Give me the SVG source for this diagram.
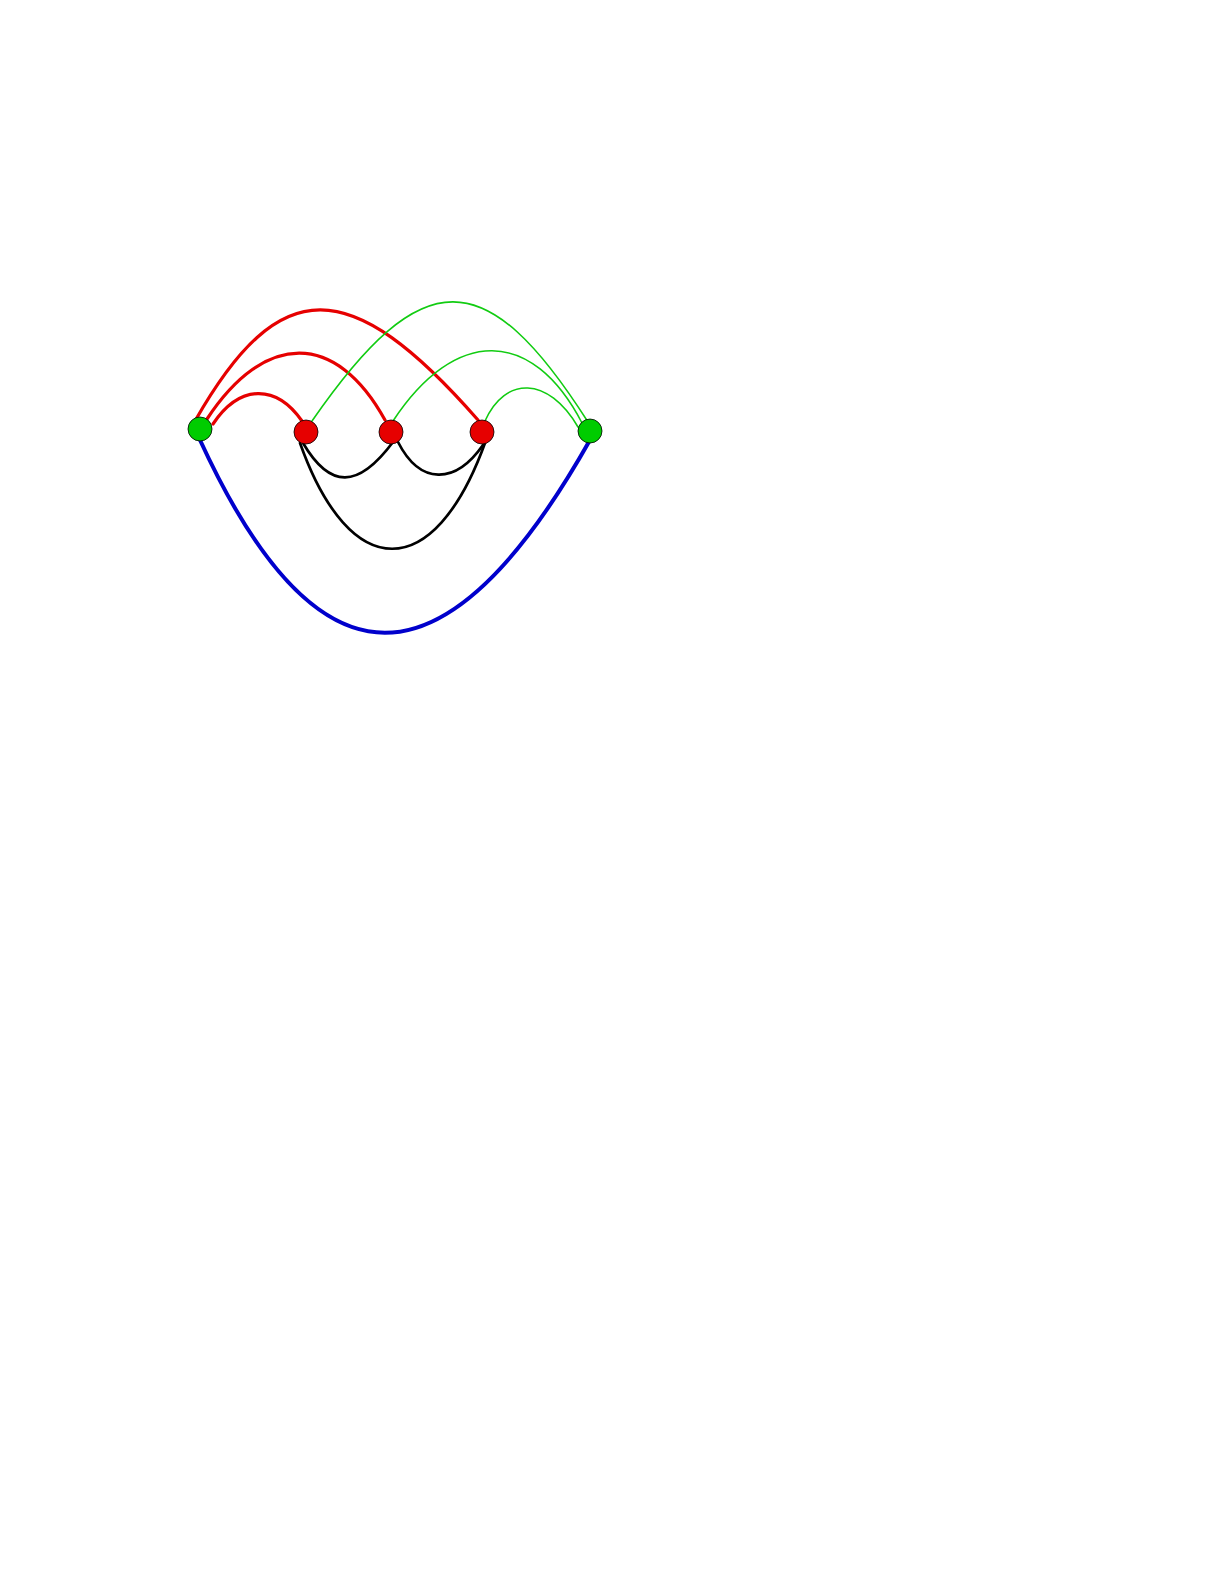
<svg xmlns="http://www.w3.org/2000/svg" width="1225" height="1585" viewBox="0 0 1225 1585">
<style>
.e{fill:none;stroke-linecap:round}
.r{stroke:#e60000;stroke-width:3.2}
.g{stroke:#11cc11;stroke-width:1.6}
.k{stroke:#000;stroke-width:2.7}
.b{stroke:#0000cc;stroke-width:4}
.ng{fill:#00cc00;stroke:#000;stroke-width:0.8}
.nr{fill:#e60000;stroke:#000;stroke-width:0.8}
</style>
<rect width="1225" height="1585" fill="#fff"/>
<g id="connectors">
<path class="e r" d="M195,421 C280,272 350,274 478,420"/>
<path class="e r" d="M207,419 C265,331 336,331 385,420"/>
<path class="e r" d="M213,424 C240,384 276,384 302,421"/>
<path class="e g" d="M312,421 C422,262 486,262 588,422"/>
<path class="e g" d="M393,421 C455,327 532,327 582,423"/>
<path class="e g" d="M485,421 C505,376 548,376 578,427"/>
<path class="e k" d="M303,443 C330,489 358,489 393,442"/>
<path class="e k" d="M398,442 C420,485 455,485 483,445"/>
<path class="e k" d="M300,443 C350,584 434,584 485,443"/>
<path class="e b" d="M200,440 C318,697 445,697 590,440"/>
</g>
<g id="n1"><circle class="ng" cx="200" cy="429" r="12"/></g>
<g id="n2"><circle class="nr" cx="306" cy="432" r="12"/></g>
<g id="n3"><circle class="nr" cx="391" cy="432" r="12"/></g>
<g id="n4"><circle class="nr" cx="482" cy="432" r="12"/></g>
<g id="n5"><circle class="ng" cx="590" cy="431" r="12"/></g>
</svg>
